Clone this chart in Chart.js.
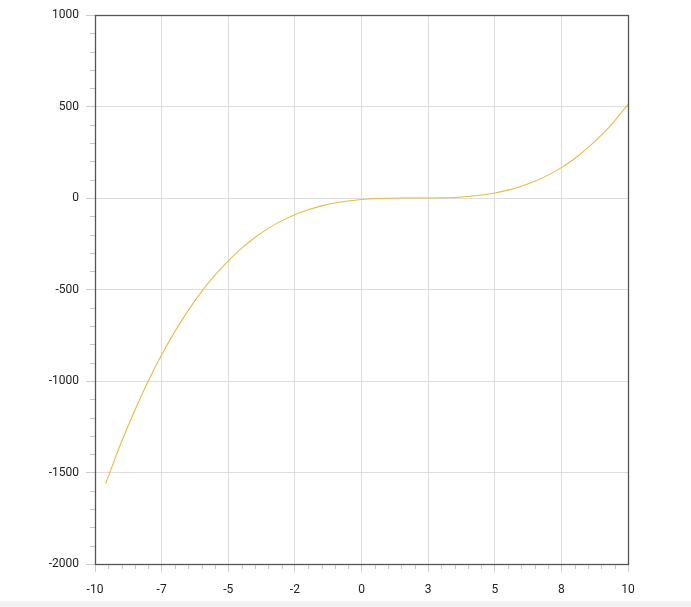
<!DOCTYPE html>
<html>
<head>
<meta charset="utf-8">
<script src="https://cdn.jsdelivr.net/npm/chart.js@4/dist/chart.umd.min.js"></script>
<style>
  html, body { margin: 0; padding: 0; background: #ffffff; }
  #wrap { position: relative; width: 691px; height: 601px; }
  #strip { width: 691px; height: 6px; background: #f2f2f2; }
</style>
</head>
<body>
<div id="wrap"><canvas id="c"></canvas></div>
<div id="strip"></div>
<script>
// Data
const xValues = [-9.6, -9, -8.5, -8, -7.5, -7, -6.5, -6, -5.5, -5, -4.5, -4, -3.5, -3, -2.5, -2, -1.5, -1, -0.5, 0,
                 0.5, 1, 1.5, 2, 2.5, 3, 3.5, 4, 4.5, 5, 5.5, 6, 6.5, 7, 7.5, 8, 8.5, 9, 9.5, 10];
const yValues = [-1560, -1331, -1158, -1000, -857, -729, -614, -512, -422, -343, -275, -216, -166, -125, -91, -64, -43, -27, -16, -8,
                 -3, -1, 0, 0, 0, 1, 3, 8, 16, 27, 43, 64, 91, 125, 166, 216, 275, 343, 422, 512];
const xRange = [-10, 10];
const yRange = [-2000, 1000];
const xMajorStep = 2.5;
const yMajorStep = 500;
const xMinorStep = 0.5;
const yMinorStep = 100;

const points = xValues.map((x, i) => ({ x: x, y: yValues[i] }));

const frameAndMinor = {
  id: 'frameAndMinor',
  afterDraw(chart) {
    const ctx = chart.ctx;
    const a = chart.chartArea;
    const xs = chart.scales.x, ys = chart.scales.y;
    ctx.save();
    // minor ticks
    ctx.strokeStyle = '#c8c8c8';
    ctx.lineWidth = 1;
    ctx.beginPath();
    for (let v = yRange[0]; v <= yRange[1] + 1e-9; v += yMinorStep) {
      if (Math.abs(v % yMajorStep) < 1e-9) continue;
      const py = Math.round(ys.getPixelForValue(v)) + 0.5;
      ctx.moveTo(a.left - 5, py); ctx.lineTo(a.left, py);
    }
    for (let v = xRange[0]; v <= xRange[1] + 1e-9; v += xMinorStep) {
      if (Math.abs(v % xMajorStep) < 1e-9) continue;
      const px = Math.round(xs.getPixelForValue(v)) + 0.5;
      ctx.moveTo(px, a.bottom); ctx.lineTo(px, a.bottom + 5);
    }
    ctx.stroke();
    // frame
    ctx.strokeStyle = '#555555';
    ctx.lineWidth = 1.3;
    ctx.strokeRect(Math.round(a.left) + 0.5, Math.round(a.top) + 0.5,
                   Math.round(a.right - a.left), Math.round(a.bottom - a.top));
    ctx.restore();
  }
};

new Chart(document.getElementById('c'), {
  type: 'line',
  data: {
    datasets: [{
      data: points,
      borderColor: '#e6bb45',
      borderWidth: 1.1,
      pointRadius: 0,
      fill: false,
      cubicInterpolationMode: 'monotone'
    }]
  },
  options: {
    responsive: true,
    maintainAspectRatio: false,
    animation: false,
    layout: { padding: { left: 0, right: 63, top: 15, bottom: 0 } },
    plugins: { legend: { display: false }, tooltip: { enabled: false } },
    scales: {
      x: {
        type: 'linear',
        min: xRange[0], max: xRange[1],
        ticks: {
          stepSize: xMajorStep,
          color: '#222222',
          font: { family: 'Roboto', size: 12 },
          padding: 11,
          maxRotation: 0,
          callback: v => String(Math.round(v))
        },
        grid: { color: '#dddddd', tickLength: 8, tickColor: '#cccccc' },
        border: { display: false },
        afterFit(s) { s.height = 37; }
      },
      y: {
        type: 'linear',
        min: yRange[0], max: yRange[1],
        ticks: {
          stepSize: yMajorStep,
          color: '#222222',
          font: { family: 'Roboto', size: 12 },
          padding: 7,
          callback: v => String(v)
        },
        grid: { color: '#dddddd', tickLength: 9, tickColor: '#cccccc' },
        border: { display: false },
        afterFit(s) { s.width = 95; }
      }
    }
  },
  plugins: [frameAndMinor]
});
</script>
</body>
</html>
